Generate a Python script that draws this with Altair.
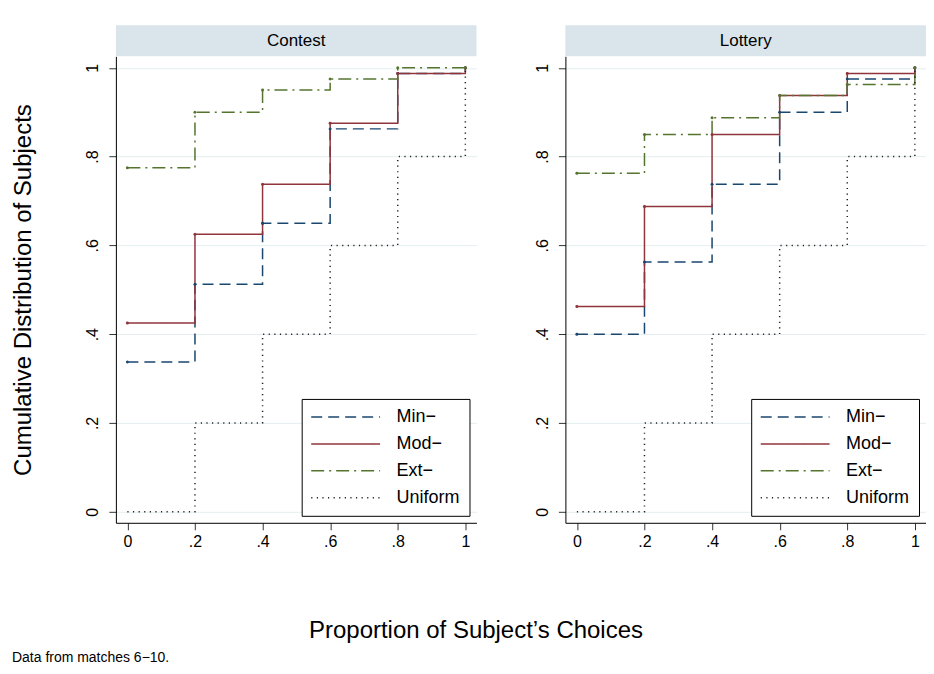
import altair as alt
import pandas as pd

# ---- data ----
x_vals = [0.0, 0.2, 0.4, 0.6, 0.8, 1.0]
series_names = ["Min−", "Mod−", "Ext−", "Uniform"]
panels = ["Contest", "Lottery"]

contest_min = [0.3375, 0.5125, 0.65, 0.8625, 0.9875, 1.0]
contest_mod = [0.425, 0.625, 0.7375, 0.875, 0.9875, 1.0]
contest_ext = [0.775, 0.90, 0.95, 0.975, 1.0, 1.0]

lottery_min = [0.40, 0.5625, 0.7375, 0.90, 0.975, 1.0]
lottery_mod = [0.4625, 0.6875, 0.85, 0.9375, 0.9875, 1.0]
lottery_ext = [0.7625, 0.85, 0.8875, 0.9375, 0.9625, 1.0]

uniform = [0.0, 0.2, 0.4, 0.6, 0.8, 1.0]

tick_values = [0, 0.2, 0.4, 0.6, 0.8, 1.0]

colors = ["#1a476f", "#90353b", "#55752f", "#222222"]
dashes = [[11, 6], [1, 0], [13, 5, 2, 5], [1.2, 4.4]]

note = "Data from matches 6−10."
x_title = "Proportion of Subject’s Choices"
y_title = "Cumulative Distribution of Subjects"

rows = []
table = {
    "Contest": {"Min−": contest_min, "Mod−": contest_mod, "Ext−": contest_ext, "Uniform": uniform},
    "Lottery": {"Min−": lottery_min, "Mod−": lottery_mod, "Ext−": lottery_ext, "Uniform": uniform},
}
for p in panels:
    for s in series_names:
        for xv, yv in zip(x_vals, table[p][s]):
            rows.append({"panel": p, "series": s, "x": xv, "y": yv})
df = pd.DataFrame(rows)

W, H = 361, 467
FONT = "Liberation Sans"
label_expr = "datum.value < 0.01 ? '0' : datum.value > 0.99 ? '1' : replace(format(datum.value, '.1f'), '0.', '.')"


def panel_chart(name, first):
    d = df[df.panel == name]
    base = alt.Chart(d)
    xenc = alt.X(
        "x:Q",
        scale=alt.Scale(domain=[-0.034, 1.033], nice=False, zero=False),
        axis=alt.Axis(values=tick_values, labelExpr=label_expr, title=None, grid=False,
                      tickSize=7, labelPadding=4, labelFontSize=16, labelColor="#000",
                      domainColor="#000", tickColor="#333", labelFlush=False),
    )
    yaxis_kw = dict(values=tick_values, labelExpr=label_expr, grid=True, gridColor="#e4eef0",
                    gridWidth=1, tickSize=7, labelPadding=8, labelFontSize=16, labelColor="#000",
                    labelAngle=270, labelAlign="center", labelBaseline="bottom",
                    domainColor="#000", tickColor="#333", labelFlush=False)
    if first:
        yaxis_kw.update(title=y_title, titleFontSize=24, titleFontWeight="normal", titleColor="#000",
                        titleAngle=270, titleAlign="center", titleBaseline="bottom",
                        titleX=-80, titleY=H / 2)
    else:
        yaxis_kw.update(title=None)
    yenc = alt.Y("y:Q", scale=alt.Scale(domain=[-0.025, 1.026], nice=False, zero=False),
                 axis=alt.Axis(**yaxis_kw))

    color = alt.Color("series:N", scale=alt.Scale(domain=series_names, range=colors),
                      sort=series_names, legend=alt.Legend(title=None))
    dash = alt.StrokeDash("series:N", scale=alt.Scale(domain=series_names, range=dashes),
                          sort=series_names, legend=alt.Legend(title=None))

    lines = base.mark_line(interpolate="step-after", strokeWidth=1.5).encode(
        x=xenc, y=yenc, color=color, strokeDash=dash)
    pts = base.transform_filter(alt.datum.series != "Uniform").mark_point(
        filled=True, size=9, opacity=1).encode(
        x=xenc, y=yenc,
        color=alt.Color("series:N", scale=alt.Scale(domain=series_names, range=colors), legend=None))

    strip_df = pd.DataFrame({"panel": [name]})
    strip = alt.Chart(strip_df).mark_rect(fill="#d9e5eb").encode(
        x=alt.value(0), x2=alt.value(W), y=alt.value(-31), y2=alt.value(0))
    strip_text = alt.Chart(strip_df).mark_text(fontSize=17, font=FONT, color="#000",
                                               baseline="middle", align="center").encode(
        x=alt.value(W / 2), y=alt.value(-15.5), text="panel:N")

    return alt.layer(strip, strip_text, lines, pts).properties(width=W, height=H)


left = panel_chart("Contest", True)
right = panel_chart("Lottery", False)

row = alt.hconcat(left, right, spacing=58).resolve_legend(
    color="independent", strokeDash="independent"
).properties(
    title=alt.TitleParams(x_title, orient="bottom", anchor="middle", fontSize=24,
                          fontWeight="normal", color="#000", font=FONT, offset=69, dx=7)
)

chart = alt.vconcat(row).properties(
    title=alt.TitleParams(note, orient="bottom", anchor="start", fontSize=14,
                          fontWeight="normal", color="#000", font=FONT, offset=8),
    padding={"left": 3, "top": 17, "right": 0, "bottom": 0},
).configure(font=FONT, background="white").configure_view(stroke=None).configure_legend(
    orient="bottom-right", offset=7, strokeColor="#000", fillColor="white", padding=9,
    symbolType="M-5,0L5,0", symbolSize=190, symbolStrokeWidth=1.5, symbolOffset=26,
    labelOffset=42, labelFontSize=18, labelColor="#000", labelFont=FONT, rowPadding=9,
)

chart.save("out.html", embed_options={"renderer": "svg", "actions": False})
